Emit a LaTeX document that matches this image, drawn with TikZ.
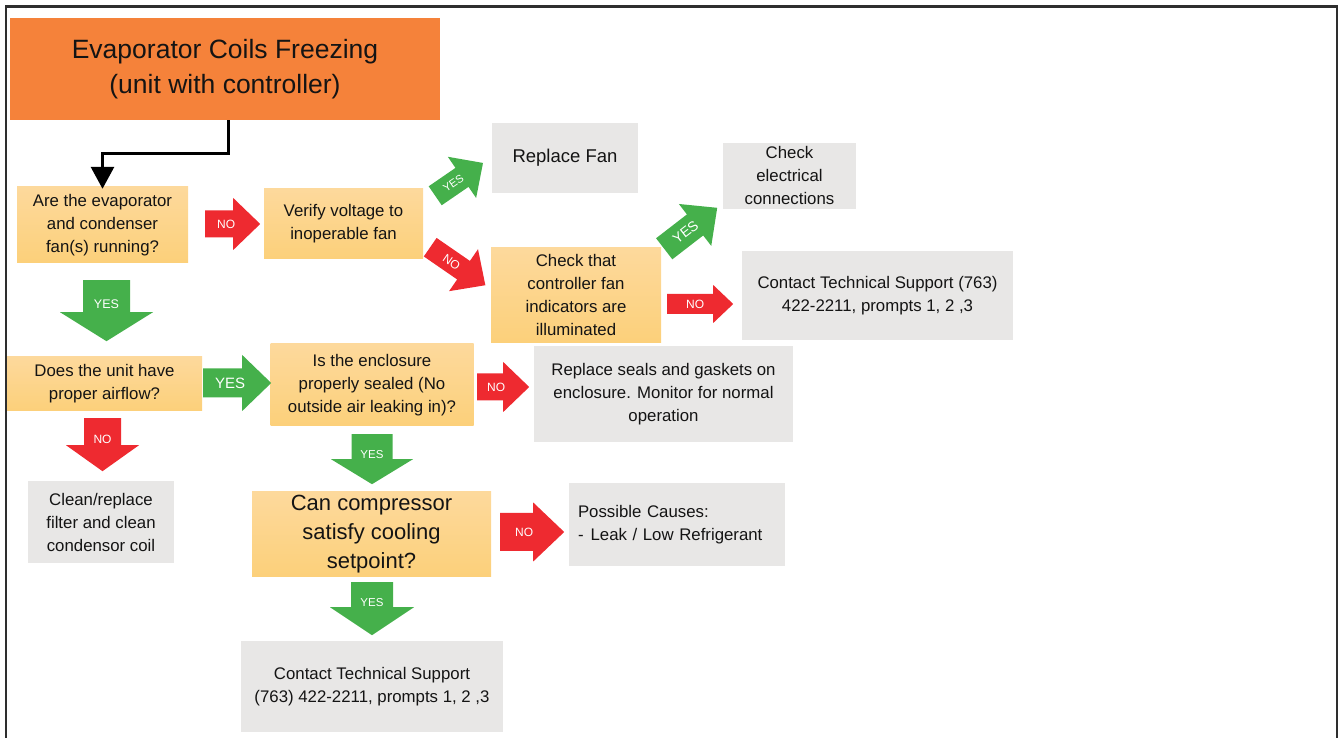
\documentclass[tikz,border=0pt]{standalone}
\usepackage{fontspec}
\setmainfont{Liberation Sans}
\usetikzlibrary{arrows.meta,calc}

\definecolor{titleorange}{HTML}{F5823A}
\definecolor{qtop}{HTML}{FDD99C}
\definecolor{qbottom}{HTML}{FCD07A}
\definecolor{infogray}{HTML}{E8E7E6}
\definecolor{yesgreen}{HTML}{45B04B}
\definecolor{nored}{HTML}{EE2A30}
\definecolor{framegray}{HTML}{2E2E2E}
\definecolor{inkblack}{HTML}{141414}

\newcommand{\bodyfont}{\fontsize{16.8}{23}\selectfont}
\newcommand{\lab}[2]{\fontsize{#1}{#1}\selectfont #2}

\tikzset{
  sz/.style 2 args={minimum width=#1pt, minimum height=#2pt},
  question/.style={shade, top color=qtop, bottom color=qbottom, inner sep=0pt,
    align=center, text=inkblack, font=\bodyfont},
  answer/.style={fill=infogray, inner sep=0pt, align=center, text=inkblack, font=\bodyfont},
  yes/.style={fill=yesgreen},
  no/.style={fill=nored},
  arrowlabel/.style={text=white, inner sep=0pt},
}

% block arrow: style, tail, angle, length, shaft, head, head length, label pos, label
\newcommand{\fatarrow}[9]{%
  \pgfmathsetmacro{\labrot}{abs(#3)>60 ? 0 : #3}%
  \begin{scope}[shift={#2}, rotate=#3]
    \fill[#1] (0,{-#5/2}) -- ({#4-#7},{-#5/2}) -- ({#4-#7},{-#6/2}) -- (#4,0)
      -- ({#4-#7},{#6/2}) -- ({#4-#7},{#5/2}) -- (0,{#5/2}) -- cycle;
    \node[arrowlabel, rotate=\labrot] at (#8,0) {#9};
  \end{scope}}

\begin{document}
\begin{tikzpicture}[x=1pt, y=1pt]
    \useasboundingbox (0,0) rectangle (1340,738);
    \draw [line width=2.5pt, framegray] (6,-10) rectangle (1337,731.5);

    % title and start
    \node [fill=titleorange, sz={430}{102}, inner sep=0pt, align=center, text=inkblack,
      font=\fontsize{26.5}{35}\selectfont] (title) at (225,669)
      {Evaporator Coils Freezing\\(unit with controller)};

    % questions
    \node [question, sz={171}{76}] (fans) at (102.5,513) {Are the evaporator\\and condenser\\fan(s) running?};
    \node [question, sz={159}{70}] (voltage) at (343.5,514) {Verify voltage to\\inoperable fan};
    \node [question, sz={170}{95}] (indicators) at (576,442.5) {Check that\\controller fan\\indicators are\\illuminated};
    \node [question, sz={195}{54}] (airflow) at (104.5,354) {Does the unit have\\proper airflow?};
    \node [question, sz={203}{82}] (sealed) at (372,353) {Is the enclosure\\properly sealed (No\\outside air leaking in)?};
    \node [question, sz={239}{85}, font=\fontsize{22}{29}\selectfont] (setpoint) at (371.5,203.5)
      {Can compressor\\satisfy cooling\\setpoint?};

    % answers
    \node [answer, sz={146}{70}, font=\fontsize{18.5}{22}\selectfont] (newfan) at (565,580) {Replace Fan};
    \node [answer, sz={133}{66}] (wiring) at (789.5,562) {Check\\electrical\\connections};
    \node [answer, sz={271}{89}] (support) at (877.5,442.5) {Contact Technical Support (763)\\422-2211, prompts 1, 2 ,3};
    \node [answer, sz={259}{96}] (gaskets) at (663.5,344) {Replace seals and gaskets on\\enclosure. Monitor for normal\\operation};
    \node [answer, sz={146}{82}] (filter) at (101,216) {Clean/replace\\filter and clean\\condensor coil};
    \node [answer, sz={216}{83}, align=left, text width=198pt] (causes) at (677,213.5)
      {Possible Causes:\\-\hspace{7pt}Leak / Low Refrigerant};
    \node [answer, sz={262}{91}] (support2) at (372,51.5) {Contact Technical Support\\(763) 422-2211, prompts 1, 2 ,3};

    % connectors
    \draw [line width=3pt, -{Triangle[width=23pt,length=22pt]}]
      ($(title.south)+(3,0)$) -- ++(0,-33) -| ($(fans.north)+(0,-2)$);

    \fatarrow{no}{($(fans.east)+(17,1)$)}{0}{55}{27}{52}{27}{21}{\lab{12}{NO}}
    \fatarrow{yes}{($(fans.south)+(4,-17)$)}{-90}{61}{47}{93}{29}{24}{\lab{12.5}{YES}}
    \fatarrow{yes}{($(voltage.north east)+(12,-7)$)}{34.5}{58}{23}{50}{25.5}{22}{\lab{11}{YES}}
    \fatarrow{no}{($(voltage.south east)+(7,12)$)}{-34.6}{67}{22.5}{51}{26.5}{26}{\lab{12}{NO}}
    \fatarrow{yes}{($(indicators.north east)+(3,-1)$)}{37.7}{67}{26.6}{53}{28}{27}{\lab{14}{YES}}
    \fatarrow{no}{($(indicators.east)+(6,-8.5)$)}{0}{66}{20}{38}{20}{28}{\lab{12}{NO}}
    \fatarrow{yes}{($(airflow.east)+(1,1)$)}{0}{68}{29}{56}{29}{27}{\lab{15}{YES}}
    \fatarrow{no}{($(airflow.south)+(-2,-7)$)}{-90}{53}{37}{73}{26}{21}{\lab{12}{NO}}
    \fatarrow{no}{($(sealed.east)+(3.5,-2)$)}{0}{52}{27}{50}{26}{19}{\lab{12}{NO}}
    \fatarrow{yes}{($(sealed.south)+(0,-8)$)}{-90}{50}{41}{82}{25}{20}{\lab{11.5}{YES}}
    \fatarrow{no}{($(setpoint.east)+(9,2.5)$)}{0}{64}{38}{59}{31}{24}{\lab{12}{NO}}
    \fatarrow{yes}{($(setpoint.south)+(0.5,-5)$)}{-90}{53}{42}{84}{28}{20}{\lab{11.5}{YES}}
\end{tikzpicture}
\end{document}
